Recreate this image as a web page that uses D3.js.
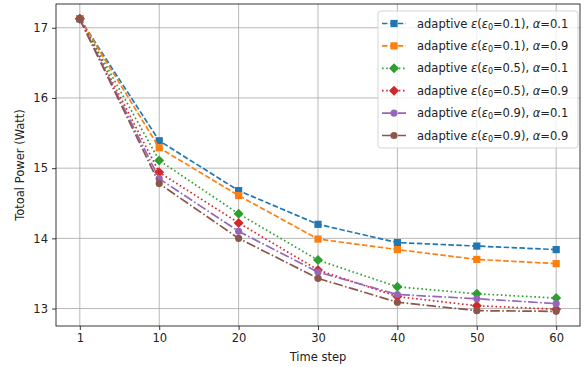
<!DOCTYPE html>
<html>
<head>
<meta charset="utf-8">
<script src="https://cdn.jsdelivr.net/npm/d3@7"></script>
<style>
  body { margin: 0; background: #fff; }
  text { font-family: "DejaVu Sans", sans-serif; fill: #222; }
</style>
</head>
<body>
<div id="chart"></div>
<script>
// tick labels of the time axis (points are evenly spaced)
var steps = ["1", "10", "20", "30", "40", "50", "60"];

var eps01a01 = [17.13, 15.39, 14.68, 14.20, 13.94, 13.89, 13.84];
var eps01a09 = [17.13, 15.29, 14.61, 13.99, 13.84, 13.70, 13.64];
var eps05a01 = [17.13, 15.11, 14.35, 13.69, 13.31, 13.21, 13.15];
var eps05a09 = [17.13, 14.94, 14.22, 13.55, 13.17, 13.04, 12.99];
var eps09a01 = [17.12, 14.85, 14.10, 13.52, 13.20, 13.14, 13.07];
var eps09a09 = [17.12, 14.78, 14.00, 13.43, 13.09, 12.97, 12.96];

var seriesNames = [
    ["0.1", "0.1"], ["0.1", "0.9"],
    ["0.5", "0.1"], ["0.5", "0.9"],
    ["0.9", "0.1"], ["0.9", "0.9"]
];
var seriesValues = [eps01a01, eps01a09, eps05a01, eps05a09, eps09a01, eps09a09];
var colors = ["#1f77b4", "#ff7f0e", "#2ca02c", "#d62728", "#9467bd", "#8c564b"];
var dashes = ["5.5,2.4", "5.5,2.4", "1.6,2.6", "1.6,2.6", "9.6,2.4,1.6,2.4", "9.6,2.4,1.6,2.4"];
var markers = ["square", "square", "diamond", "diamond", "circle", "circle"];

var W = 587, H = 367;
var margin = { top: 4, right: 7, bottom: 41, left: 56 },
    width = W - margin.left - margin.right,
    height = H - margin.top - margin.bottom;

var svg = d3.select("#chart")
    .append("svg")
    .attr("width", W)
    .attr("height", H);

var g = svg.append("g")
    .attr("transform", "translate(" + margin.left + "," + margin.top + ")");

var x = d3.scaleLinear()
    .domain([-0.3, steps.length - 1 + 0.3])
    .range([0, width]);

var allVals = seriesValues.flat();
var yMin = d3.min(allVals), yMax = d3.max(allVals), pad = (yMax - yMin) * 0.05;
var y = d3.scaleLinear()
    .domain([yMin - pad, yMax + pad])
    .range([height, 0]);

var yTicks = [13, 14, 15, 16, 17];

// grid
g.append("g").selectAll("line")
    .data(d3.range(steps.length))
    .enter().append("line")
    .attr("x1", d => x(d)).attr("x2", d => x(d))
    .attr("y1", 0).attr("y2", height)
    .attr("stroke", "#b0b0b0").attr("stroke-width", 0.9);
g.append("g").selectAll("line")
    .data(yTicks)
    .enter().append("line")
    .attr("x1", 0).attr("x2", width)
    .attr("y1", d => y(d)).attr("y2", d => y(d))
    .attr("stroke", "#b0b0b0").attr("stroke-width", 0.9);

// axes
var xAxis = g.append("g")
    .attr("transform", "translate(0," + height + ")")
    .call(d3.axisBottom(x).tickValues(d3.range(steps.length)).tickFormat(i => steps[i])
        .tickSize(4).tickPadding(4));
var yAxis = g.append("g")
    .call(d3.axisLeft(y).tickValues(yTicks).tickFormat(d3.format("d"))
        .tickSize(4).tickPadding(4));
[xAxis, yAxis].forEach(a => {
    a.select(".domain").remove();
    a.selectAll("line").attr("stroke", "#222").attr("stroke-width", 0.9);
    a.selectAll("text").attr("font-size", "11.5px").attr("fill", "#222")
        .attr("font-family", "DejaVu Sans, sans-serif");
});

var line = d3.line()
    .x((d, i) => x(i))
    .y(d => y(d));

function drawMarker(sel, type, color, cx, cy) {
    if (type === "square") {
        sel.append("rect")
            .attr("x", cx - 3.6).attr("y", cy - 3.6)
            .attr("width", 7.2).attr("height", 7.2)
            .attr("fill", color);
    } else if (type === "diamond") {
        var r = 5;
        sel.append("path")
            .attr("d", "M" + cx + "," + (cy - r) + "L" + (cx + r) + "," + cy + "L" + cx + "," + (cy + r) + "L" + (cx - r) + "," + cy + "Z")
            .attr("fill", color);
    } else {
        sel.append("circle")
            .attr("cx", cx).attr("cy", cy).attr("r", 3.6)
            .attr("fill", color);
    }
}

var plot = g.append("g");
seriesValues.forEach((vals, k) => {
    plot.append("path")
        .datum(vals)
        .attr("fill", "none")
        .attr("stroke", colors[k])
        .attr("stroke-width", 1.7)
        .attr("stroke-dasharray", dashes[k])
        .attr("d", line);
    var mg = plot.append("g");
    vals.forEach((v, i) => drawMarker(mg, markers[k], colors[k], x(i), y(v)));
});

// frame
g.append("rect")
    .attr("width", width).attr("height", height)
    .attr("fill", "none").attr("stroke", "#222").attr("stroke-width", 0.9);

// axis titles
svg.append("text")
    .attr("x", margin.left + width / 2).attr("y", H - 6)
    .attr("text-anchor", "middle").attr("font-size", "11.5px")
    .text("Time step");
svg.append("text")
    .attr("transform", "translate(24," + (margin.top + height / 2) + ") rotate(-90)")
    .attr("text-anchor", "middle").attr("font-size", "11.5px")
    .text("Totoal Power (Watt)");

// legend
var lg = svg.append("g").attr("transform", "translate(378,11)");
lg.append("rect")
    .attr("width", 200).attr("height", 137).attr("rx", 3)
    .attr("fill", "#fff").attr("fill-opacity", 0.8)
    .attr("stroke", "#d0d0d0").attr("stroke-width", 0.9);
seriesNames.forEach((nm, k) => {
    var yy = 12.5 + k * 22.4;
    var row = lg.append("g");
    row.append("line")
        .attr("x1", 4).attr("x2", 28).attr("y1", yy).attr("y2", yy)
        .attr("stroke", colors[k]).attr("stroke-width", 1.7)
        .attr("stroke-dasharray", dashes[k]);
    drawMarker(row, markers[k], colors[k], 16, yy);
    var t = row.append("text")
        .attr("x", 39).attr("y", yy + 4)
        .attr("font-size", "11.5px");
    t.append("tspan").text("adaptive ");
    t.append("tspan").attr("font-style", "italic").text("ε");
    t.append("tspan").text("(");
    t.append("tspan").attr("font-style", "italic").text("ε");
    t.append("tspan").attr("font-size", "8px").attr("dy", 2).text("0");
    t.append("tspan").attr("dy", -2).text("=" + nm[0] + "), ");
    t.append("tspan").attr("font-style", "italic").text("α");
    t.append("tspan").text("=" + nm[1]);
});
</script>
</body>
</html>
